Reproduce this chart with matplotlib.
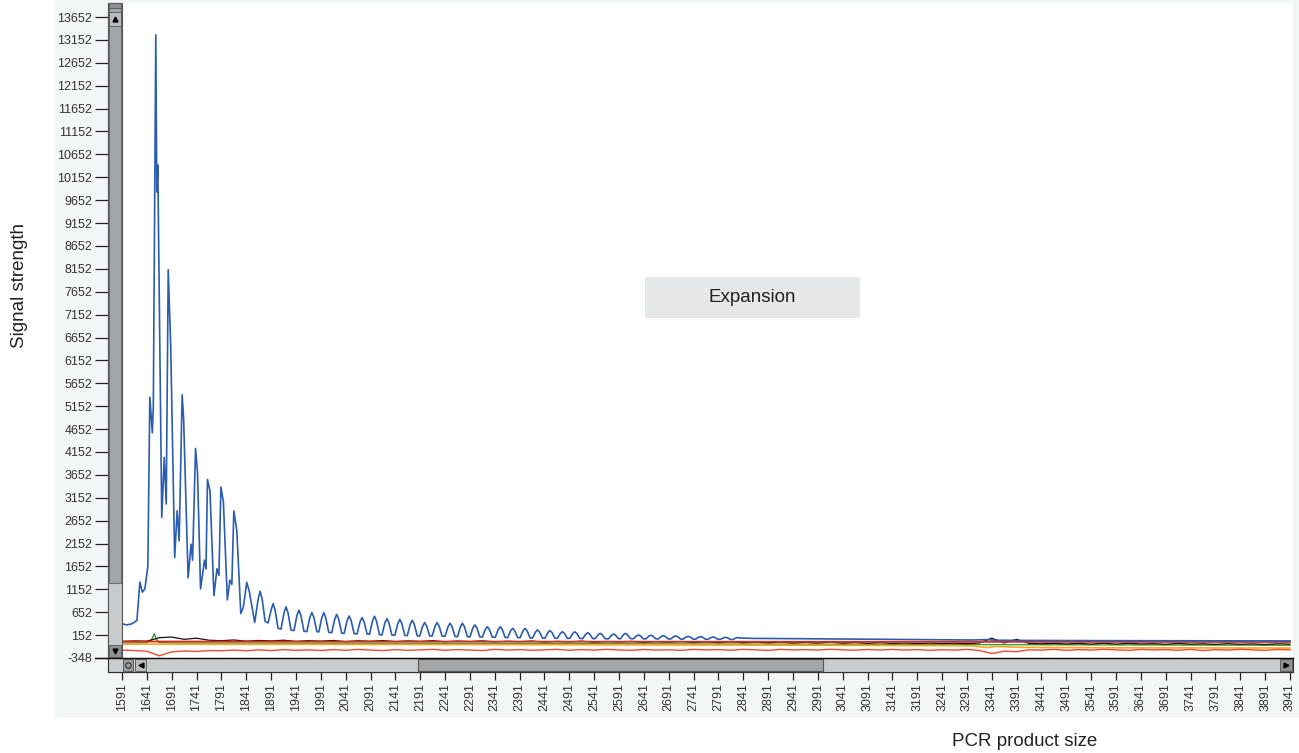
import numpy as np
import matplotlib
matplotlib.use('Agg')
import matplotlib.pyplot as plt
from matplotlib.patches import Rectangle
from matplotlib.lines import Line2D

plt.rcParams['font.family'] = ['Liberation Sans', 'DejaVu Sans']

W, H = 1299, 753

# ---- trace data (size in bp, signal) ----
# blue: first cluster of peaks
blue_early_size = [1591, 1600, 1610, 1621, 1627, 1632, 1637, 1643, 1647, 1652,
                   1654, 1659, 1661, 1663, 1671, 1676, 1680, 1684, 1689, 1697,
                   1702, 1706, 1712, 1715, 1724, 1730, 1733, 1739, 1743, 1749,
                   1757, 1760, 1763, 1768, 1776, 1782, 1786, 1790, 1795, 1803,
                   1808, 1812, 1816, 1822, 1830, 1835, 1842, 1847, 1858]
blue_early_val = [400, 375, 395, 470, 1310, 1090, 1160, 1650, 5350, 4570,
                  5150, 13260, 9830, 10420, 2720, 4035, 3015, 8130, 6470, 1845,
                  2870, 2210, 5400, 4870, 1405, 2140, 1790, 4230, 3690, 1160,
                  1790, 1600, 3550, 3305, 1015, 1600, 1455, 3385, 3060, 920,
                  1355, 1260, 2865, 2430, 625, 755, 1305, 1115, 430]

# blue: repeating ladder - peak tops, their flanks, and both ends of each valley
blue_peak_size = [1869, 1895, 1921, 1947, 1973, 1997, 2023, 2048, 2074, 2099,
                  2124, 2150, 2175, 2200, 2225, 2251, 2276, 2301, 2326, 2352,
                  2377, 2402, 2427, 2452, 2477, 2502, 2528, 2553, 2580, 2604,
                  2630, 2655, 2680, 2705, 2730, 2755, 2780, 2805, 2830]
blue_peak_val = [1110, 840, 770, 700, 645, 640, 605, 570, 535, 565,
                 510, 495, 475, 425, 425, 410, 410, 375, 335, 335,
                 300, 300, 265, 250, 225, 225, 205, 190, 175, 190,
                 155, 150, 140, 135, 125, 120, 112, 105, 100]
blue_flank_l_size = [1865, 1891, 1917, 1943, 1969, 1993, 2019, 2044, 2070, 2095,
                     2120, 2146, 2171, 2196, 2221, 2247, 2272, 2297, 2322, 2348,
                     2373, 2398, 2423, 2448, 2473, 2498, 2524, 2549, 2576, 2600,
                     2626, 2651, 2676, 2701, 2726, 2751, 2776, 2801, 2826]
blue_flank_r_size = [1873, 1899, 1925, 1951, 1977, 2001, 2027, 2052, 2078, 2103,
                     2128, 2154, 2179, 2204, 2229, 2255, 2280, 2305, 2330, 2356,
                     2381, 2406, 2431, 2456, 2481, 2506, 2532, 2557, 2584, 2608,
                     2634, 2659, 2684, 2709, 2734, 2759, 2784, 2809, 2834]
blue_flank_val = [940, 700, 640, 580, 540, 530, 500, 470, 445, 462,
                  420, 406, 390, 350, 350, 337, 335, 310, 277, 275,
                  250, 247, 220, 208, 190, 188, 172, 160, 150, 160,
                  134, 130, 122, 117, 110, 105, 98, 92, 89]
blue_valley_a_size = [1879, 1905, 1931, 1957, 1983, 2007, 2033, 2058, 2084, 2109,
                      2134, 2160, 2185, 2210, 2235, 2261, 2286, 2311, 2336, 2362,
                      2387, 2412, 2437, 2462, 2487, 2512, 2538, 2563, 2590, 2614,
                      2640, 2665, 2690, 2715, 2740, 2765, 2790, 2815]
blue_valley_a_val = [450, 300, 262, 238, 230, 212, 197, 185, 178, 162,
                     154, 146, 138, 135, 131, 123, 116, 114, 108, 100,
                     98, 92, 88, 85, 83, 79, 77, 73, 75, 75,
                     72, 70, 68, 66, 64, 62, 60, 58]
blue_valley_b_size = [1885, 1911, 1937, 1963, 1987, 2013, 2038, 2064, 2089, 2114,
                      2140, 2165, 2190, 2215, 2241, 2266, 2291, 2316, 2342, 2367,
                      2392, 2417, 2442, 2467, 2492, 2518, 2543, 2570, 2594, 2620,
                      2645, 2670, 2695, 2720, 2745, 2770, 2795, 2820]
blue_valley_b_val = [420, 285, 250, 228, 222, 205, 190, 178, 172, 155,
                     148, 140, 132, 130, 126, 118, 111, 110, 104, 96,
                     95, 89, 84, 82, 80, 76, 74, 70, 72, 72,
                     70, 68, 66, 64, 62, 60, 58, 56]

blue_tail_size = [2860, 2900, 2950, 3000, 3050, 3100, 3150, 3200, 3250, 3300,
                  3330, 3350, 3400, 3500, 3600, 3700, 3800, 3941]
blue_tail_val = [80, 78, 74, 70, 66, 62, 58, 54, 50, 45,
                 52, 40, 36, 32, 30, 28, 26, 25]

# baseline channels sampled every 25 bp from 1591
base_start, base_step = 1591, 25
black_val = [15, 25, 20, 95, 110, 60, 85, 40, 30, 45,
             20, 35, 25, 40, 15, 30, 20, 35, 10, 28,
             18, 32, 12, 25, 15, 30, 8, 22, 12, 26,
             5, 18, 10, 22, 0, 15, 5, 20, -5, 12,
             0, 15, -8, 10, -5, 12, -10, 5, -12, 8,
             -15, 3, -18, 0, -20, -5, -22, 2, -25, -8,
             -28, -12, -30, -20, -32, -22, -30, -25, -35, -20,
             85, -20, 60, -30, -38, -28, -42, -30, -45, -25,
             -45, -28, -42, -35, -48, -30, -45, -38, -50, -35,
             -48, -40, -52, -38, -45]
red_low_val = [-175, -185, -200, -300, -215, -195, -205, -185, -190, -175,
               -190, -170, -185, -165, -180, -170, -185, -165, -180, -160,
               -175, -185, -165, -180, -170, -160, -180, -165, -175, -185,
               -160, -175, -165, -180, -170, -160, -178, -165, -175, -160,
               -172, -180, -162, -175, -168, -180, -160, -172, -165, -178,
               -160, -170, -182, -160, -172, -165, -175, -158, -170, -178,
               -162, -172, -160, -175, -165, -180, -168, -175, -160, -185,
               -250, -200, -210, -170, -175, -160, -180, -165, -175, -158,
               -170, -180, -160, -172, -165, -178, -160, -185, -165, -175,
               -158, -170, -180, -162, -170]

orange_size = [1591, 2300, 3000, 3300, 3330, 3350, 3400, 3600, 3941]
orange_val = [-45, -55, -70, -80, -120, -95, -115, -125, -130]

green_size = [1591, 1640, 1650, 1656, 1660, 1666, 1700, 2500, 3300, 3941]
green_val = [-20, -15, 40, 185, 60, -10, -20, -35, -55, -70]

red_top_size = [1591, 3941]
red_top_val = [12, 2]

y_ticks = np.arange(-348, 13653, 500)
x_ticks = np.arange(1591, 3942, 50)

# ---- figure ----
fig = plt.figure(figsize=(W / 100, H / 100), dpi=100)


def px_rect(x0, y0, x1, y1, **kw):
    r = Rectangle((x0 / W, 1 - y1 / H), (x1 - x0) / W, (y1 - y0) / H,
                  transform=fig.transFigure, **kw)
    fig.add_artist(r)
    return r


def px_mark(x, y, marker, **kw):
    fig.add_artist(Line2D([x / W], [1 - y / H], marker=marker, linestyle='none',
                          transform=fig.transFigure, **kw))


def px_line(xs, ys, **kw):
    fig.add_artist(Line2D([x / W for x in xs], [1 - y / H for y in ys],
                          transform=fig.transFigure, **kw))


# light panel behind the chart
px_rect(55, 0, W, 718, facecolor='#f3f6f7', edgecolor='none', zorder=-5)

ax = fig.add_axes([108 / W, 1 - 672 / H, (1293 - 108) / W, (672 - 3) / H])
bp_px = 50 / 24.85
v_px = 14000 / 641
ax.set_xlim(1591 - 14 * bp_px, 3941 + 3 * bp_px)
ax.set_ylim(-348 - 14 * v_px, -348 + 655 * v_px)

base_size = base_start + base_step * np.arange(len(black_val))
ax.plot(green_size, green_val, color='#3a9a3a', lw=1.0, zorder=2)
ax.plot(orange_size, orange_val, color='#f5a623', lw=1.2, zorder=2.1)
ax.plot(base_size, black_val, color='#111111', lw=0.9, zorder=2.2)
ax.plot(red_top_size, red_top_val, color='#e02a1a', lw=1.3, zorder=2.3)
ax.plot(base_size, red_low_val, color='#f04a30', lw=1.0, zorder=2.4)

bs = np.concatenate([blue_early_size, blue_peak_size, blue_flank_l_size,
                     blue_flank_r_size, blue_valley_a_size, blue_valley_b_size,
                     blue_tail_size])
bv = np.concatenate([blue_early_val, blue_peak_val, blue_flank_val,
                     blue_flank_val, blue_valley_a_val, blue_valley_b_val,
                     blue_tail_val])
order = np.argsort(bs, kind='stable')
ax.plot(bs[order], bv[order], color='#2a5cb0', lw=1.2, zorder=3,
        solid_joinstyle='round')

for s in ['top', 'right']:
    ax.spines[s].set_visible(False)
ax.spines['left'].set_color('#555555')
ax.spines['bottom'].set_color('#222222')

ax.set_yticks(y_ticks)
ax.set_yticklabels([str(v) for v in y_ticks])
ax.set_xticks(x_ticks)
ax.set_xticklabels([str(v) for v in x_ticks])
ax.tick_params(axis='y', length=9.4, width=0.9, pad=2, labelsize=9,
               labelcolor='#333333', color='#222222')
ax.tick_params(axis='x', length=5.8, width=0.9, pad=2, labelsize=9,
               labelrotation=90, labelcolor='#333333', color='#222222')

# vertical scrollbar
px_rect(108, 3, 122, 658, facecolor='#c8cbce', edgecolor='#555555', lw=0.8, zorder=4)
px_rect(109, 3, 121, 583, facecolor='#a2a6a9', edgecolor='#6a6e71', lw=0.8, zorder=4.1)
px_rect(109, 3, 121, 8, facecolor='#8e9295', edgecolor='#555555', lw=0.6, zorder=4.2)
px_rect(109, 12, 121, 26, facecolor='#b8bcbf', edgecolor='#555555', lw=0.6, zorder=4.2)
px_mark(115, 19, '^', color='black', markersize=3.5, zorder=4.3)
px_rect(109, 645, 121, 657, facecolor='#8e9295', edgecolor='#555555', lw=0.6, zorder=4.2)
px_mark(115, 651, 'v', color='black', markersize=3.5, zorder=4.3)

# horizontal scrollbar
px_rect(108, 658, 1293, 672, facecolor='#c9cccf', edgecolor='#333333', lw=0.8, zorder=4)
px_rect(418, 659, 823, 671, facecolor='#a3a7aa', edgecolor='#555555', lw=0.8, zorder=4.1)
px_rect(123, 659, 133, 671, facecolor='#9a9ea1', edgecolor='#555555', lw=0.6, zorder=4.2)
px_mark(128, 665, 'o', markerfacecolor='none', markeredgecolor='#333333',
        markersize=4, markeredgewidth=0.8, zorder=4.3)
px_rect(135, 659, 146, 671, facecolor='#b8bcbf', edgecolor='#555555', lw=0.6, zorder=4.2)
px_mark(140.5, 665, '<', color='black', markersize=3.5, zorder=4.3)
px_rect(1280, 659, 1292, 671, facecolor='#8e9295', edgecolor='#555555', lw=0.6, zorder=4.2)
px_mark(1286, 665, '>', color='black', markersize=3.5, zorder=4.3)
px_line([95, 1293], [658, 658], color='#111111', lw=1.0, zorder=4.5)

# label box
px_rect(645, 277, 860, 318, facecolor='#e6e7e9', edgecolor='none', zorder=5)
fig.text(752 / W, 1 - 298 / H, 'Expansion', ha='center', va='center',
         fontsize=13.5, color='#222222', zorder=6)

fig.text(20 / W, 1 - 286 / H, 'Signal strength', rotation=90, ha='center',
         va='center', fontsize=13.5, color='#222222')
fig.text(1025 / W, 1 - 742 / H, 'PCR product size', ha='center', va='center',
         fontsize=13.5, color='#222222')

fig.savefig('out.png', dpi=100, facecolor='white')
